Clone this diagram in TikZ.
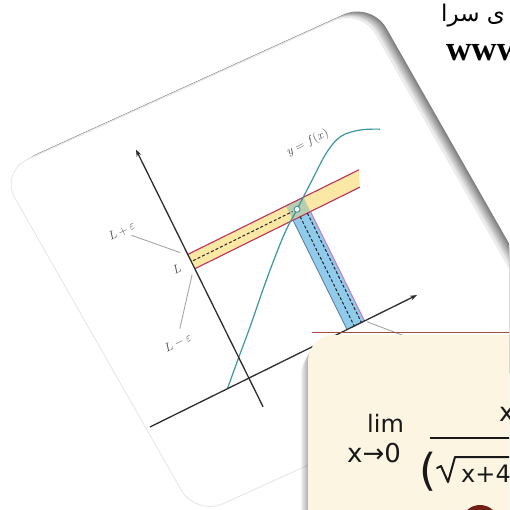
\documentclass[tikz,border=0pt]{standalone}
\usepackage{fontspec}
\usetikzlibrary{arrows.meta}
\TeXXeTstate=1
\newfontfamily\arabicfont[Script=Arabic]{DejaVu Sans}
\newfontfamily\wwwfont{Liberation Serif}
\newfontfamily\handfont{DejaVu Sans}
\definecolor{bandfill}{RGB}{251,232,165}
\definecolor{bandedge}{RGB}{190,50,90}
\definecolor{stripfill}{RGB}{145,203,236}
\definecolor{stripleft}{RGB}{90,120,150}
\definecolor{stripright}{RGB}{205,120,205}
\definecolor{overlapcol}{RGB}{185,205,175}
\definecolor{curvecol}{RGB}{60,150,160}
\definecolor{axiscol}{RGB}{45,45,45}
\definecolor{leadercol}{RGB}{165,165,165}
\definecolor{labelcol}{RGB}{70,70,70}
\definecolor{cream}{RGB}{251,245,226}
\definecolor{redline}{RGB}{165,75,65}
\definecolor{blobcol}{RGB}{115,30,20}
\definecolor{inkcol}{RGB}{25,25,25}
\tikzset{
  cardone/.style={insert path={(0,-172) -- (361,-8) -- (557,-352) -- (196,-516) -- cycle}},
  cardtwo/.style={insert path={(308,-530) -- (308,-361) arc[start angle=180,end angle=90,radius=26] -- (530,-335) -- (530,-530) -- cycle}},
  axisline/.style={axiscol, line width=1.3, -{Stealth[length=7pt,width=5pt]}},
  leader/.style={leadercol, line width=0.9},
  lbl/.style={labelcol, inner sep=0, transform shape, font=\fontsize{12}{14}\selectfont},
  dashline/.style={black!85, line width=1, dash pattern=on 3pt off 2pt},
  ink/.style={inkcol, inner sep=0, anchor=base west},
}
\begin{document}
\begin{tikzpicture}[x=1pt,y=1pt]
\useasboundingbox (0,0) rectangle (509,-510);
\begin{scope}
\clip (0,0) rectangle (509,-510);
\fill[white] (0,0) rectangle (509,-510);
% top-right texts
\node[anchor=base west, inner sep=0, black] (fa) at (441,-22) {\arabicfont\fontsize{23}{26}\selectfont\beginR ی سرا\endR};
\node[anchor=base west, inner sep=0, black] (www) at (446,-61) {\wwwfont\bfseries\fontsize{35}{40}\selectfont www};
% card one shadow
\foreach \i in {12,11,...,1}{
  \pgfmathsetmacro\c{4.2*\i}
  \fill[black!\c, shift={(0.87*\i,0.5*\i)}, rounded corners=30pt, cardone];
}
\fill[white, rounded corners=30pt, cardone];
\draw[black!10, line width=0.8, rounded corners=30pt, cardone];
% graph
\begin{scope}[shift={(248.9,-378.1)}, rotate=26.3]
  \fill[bandfill] (0,122) -- (0,138) -- (191,138) -- (184,122) -- cycle;
  \fill[stripfill] (109.5,0) rectangle (129,122);
  \fill[overlapcol] (109.5,122) rectangle (129,138);
  \draw[bandedge, line width=1.1] (0,138) -- (191,138);
  \draw[bandedge, line width=1.1] (0,122) -- (184,122);
  \draw[stripleft, line width=0.8] (109.5,0) -- (109.5,122);
  \draw[stripright, line width=1] (129,0) -- (129,122);
  \draw[dashline] (2,130) -- (113,130);
  \draw[dashline] (117.5,122) -- (117.5,0);
  \draw[dashline] (125.5,122) -- (125.5,0);
  \draw[curvecol, line width=1.2] plot[smooth, tension=0.6] coordinates {(-24,0) (0,23) (23.6,45.3) (60,81) (95,113) (118,130) (145,150) (170,168) (190,176) (210,173) (228,165)};
  \node[circle, draw=curvecol, fill=white, inner sep=0, minimum size=6pt, line width=0.9] (pt) at (118,130) {};
  \coordinate (ybot) at (0,-32);
  \coordinate (ytop) at (0,255);
  \coordinate (xleft) at (-110.4,0);
  \coordinate (xright) at (187.5,0);
  \draw[axisline] (ybot) -- (ytop);
  \draw[axisline] (xleft) -- (xright);
  \node[lbl] (yfx) at (157,185) {$y = f(x)$};
  \node[lbl] (lpe) at (-49,188) {$L+\varepsilon$};
  \node[lbl] (lL) at (-16,130) {$L$};
  \node[lbl] (lme) at (-48,63) {$L-\varepsilon$};
  \coordinate (lpeA) at (-42,180);
  \coordinate (lpeB) at (-6,143);
  \coordinate (lmeA) at (-40,75);
  \coordinate (lmeB) at (-5,118);
  \coordinate (dA) at (131,-2);
  \coordinate (dB) at (172,-46);
  \draw[leader] (lpeA) -- (lpeB);
  \draw[leader] (lmeA) -- (lmeB);
  \draw[leader] (dA) -- (dB);
\end{scope}
% card two shadow
\foreach \i in {1,...,9}{
  \fill[black, opacity=0.035, shift={(-0.8*\i,-1.5*\i)}, cardtwo];
}
\fill[cream, cardtwo];
\draw[redline, line width=1] (312,-332.5) -- (509,-332.5);
% handwriting
\node[ink] (lim) at (367,-432) {\handfont\fontsize{24}{28}\selectfont lim};
\node[ink] (xto) at (347,-462) {\handfont\fontsize{26}{30}\selectfont x→0};
\node[ink] (num) at (499,-421) {\handfont\fontsize{26}{30}\selectfont x};
\coordinate (barL) at (430,-438);
\coordinate (barR) at (515,-438);
\draw[inkcol, line width=2] (barL) -- (barR);
\node[ink] (paren) at (419,-485) {\handfont\fontsize{44}{50}\selectfont (};
\draw[inkcol, line width=2, line join=round, line cap=round] (437,-468) -- (441,-466) -- (448,-482) -- (455,-457) -- (515,-457);
\node[ink] (den) at (461,-482) {\handfont\fontsize{24}{28}\selectfont x+4};
\fill[blobcol] (480,-522) ellipse [x radius=18, y radius=17];
\end{scope}
\end{tikzpicture}
\end{document}
